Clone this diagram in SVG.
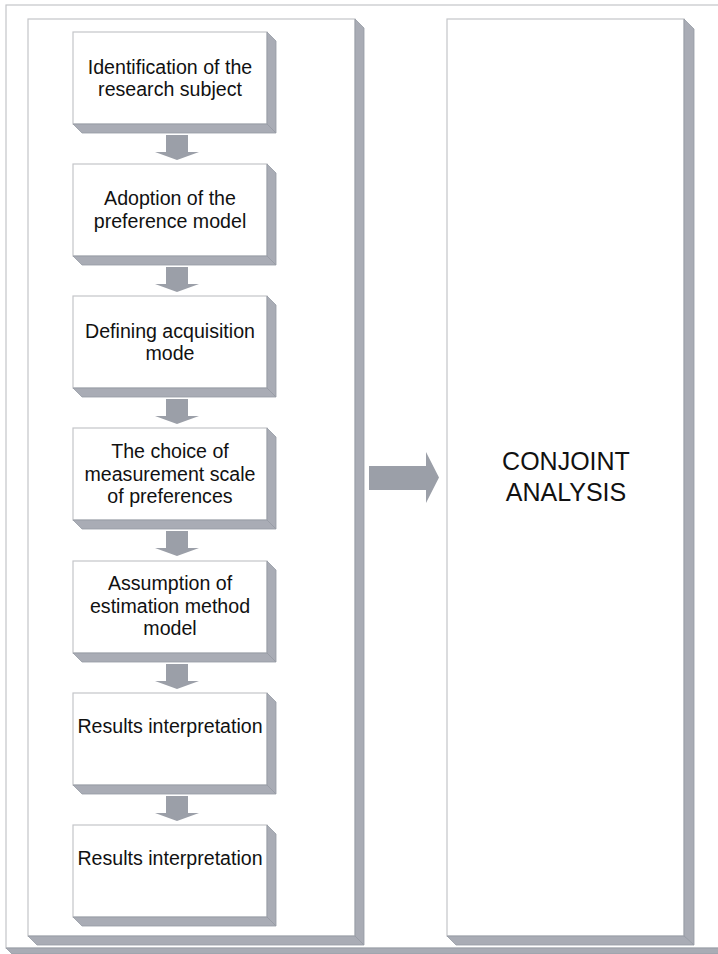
<svg xmlns="http://www.w3.org/2000/svg" width="718" height="954" viewBox="0 0 718 954">
<defs>
<style>
.face{fill:#ffffff;stroke:#c4c5c9;stroke-width:1.2}
.bev{fill:#a9acb5;stroke:#959aa3;stroke-width:0.8}
.arrow{fill:#9b9fa8}
.t{font-family:"Liberation Sans",Arial,sans-serif;font-size:19.6px;fill:#111;text-anchor:middle}
.big{font-family:"Liberation Sans",Arial,sans-serif;font-size:25px;fill:#111;text-anchor:middle}
</style>
</defs>
<rect width="718" height="954" fill="#ffffff"/>
<g id="outer-frame">
<rect class="face" x="6" y="5" width="720" height="943"/>
<polygon class="bev" points="6,948 12,954 726,954 726,948"/>
</g>
<g id="left-panel">
<rect class="face" x="28" y="19" width="327" height="917"/>
<polygon class="bev" points="355,19 364,28 364,945 355,936"/>
<polygon class="bev" points="28,936 37,945 364,945 355,936"/>
</g>
<g id="right-panel">
<rect class="face" x="447" y="19" width="237" height="917"/>
<polygon class="bev" points="684,19 694,29 694,945 684,936"/>
<polygon class="bev" points="447,936 456,945 694,945 684,936"/>
<text class="big" x="566" y="470">CONJOINT</text>
<text class="big" x="566" y="501">ANALYSIS</text>
</g>
<g id="step1">
<rect class="face" x="73" y="32" width="194" height="92"/>
<polygon class="bev" points="267,32 276,41 276,133 267,124"/>
<polygon class="bev" points="73,124 82,133 276,133 267,124"/>
<text class="t" x="170" y="74">Identification of the</text>
<text class="t" x="170" y="96">research subject</text>
</g>
<g id="step2">
<rect class="face" x="73" y="164" width="194" height="92"/>
<polygon class="bev" points="267,164 276,173 276,265 267,256"/>
<polygon class="bev" points="73,256 82,265 276,265 267,256"/>
<text class="t" x="170" y="205">Adoption of the</text>
<text class="t" x="170" y="228">preference model</text>
</g>
<g id="step3">
<rect class="face" x="73" y="296" width="194" height="92"/>
<polygon class="bev" points="267,296 276,305 276,397 267,388"/>
<polygon class="bev" points="73,388 82,397 276,397 267,388"/>
<text class="t" x="170" y="338">Defining acquisition</text>
<text class="t" x="170" y="360">mode</text>
</g>
<g id="step4">
<rect class="face" x="73" y="428" width="194" height="92"/>
<polygon class="bev" points="267,428 276,437 276,529 267,520"/>
<polygon class="bev" points="73,520 82,529 276,529 267,520"/>
<text class="t" x="170" y="458">The choice of</text>
<text class="t" x="170" y="481">measurement scale</text>
<text class="t" x="170" y="503">of preferences</text>
</g>
<g id="step5">
<rect class="face" x="73" y="561" width="194" height="92"/>
<polygon class="bev" points="267,561 276,570 276,662 267,653"/>
<polygon class="bev" points="73,653 82,662 276,662 267,653"/>
<text class="t" x="170" y="590">Assumption of</text>
<text class="t" x="170" y="613">estimation method</text>
<text class="t" x="170" y="635">model</text>
</g>
<g id="step6">
<rect class="face" x="73" y="693" width="194" height="92"/>
<polygon class="bev" points="267,693 276,702 276,794 267,785"/>
<polygon class="bev" points="73,785 82,794 276,794 267,785"/>
<text class="t" x="170" y="733">Results interpretation</text>
</g>
<g id="step7">
<rect class="face" x="73" y="825" width="194" height="92"/>
<polygon class="bev" points="267,825 276,834 276,926 267,917"/>
<polygon class="bev" points="73,917 82,926 276,926 267,917"/>
<text class="t" x="170" y="865">Results interpretation</text>
</g>
<g id="connectors">
<polygon class="arrow" points="166,135 188,135 188,152 199,152 177,160 155,152 166,152"/>
<polygon class="arrow" points="166,267 188,267 188,284 199,284 177,292 155,284 166,284"/>
<polygon class="arrow" points="166,399 188,399 188,416 199,416 177,424 155,416 166,416"/>
<polygon class="arrow" points="166,531 188,531 188,548 199,548 177,556 155,548 166,548"/>
<polygon class="arrow" points="166,664 188,664 188,681 199,681 177,689 155,681 166,681"/>
<polygon class="arrow" points="166,796 188,796 188,813 199,813 177,821 155,813 166,813"/>
<polygon class="arrow" points="369,466 426,466 426,452 439,477.5 426,503 426,490 369,490"/>
</g>
</svg>
